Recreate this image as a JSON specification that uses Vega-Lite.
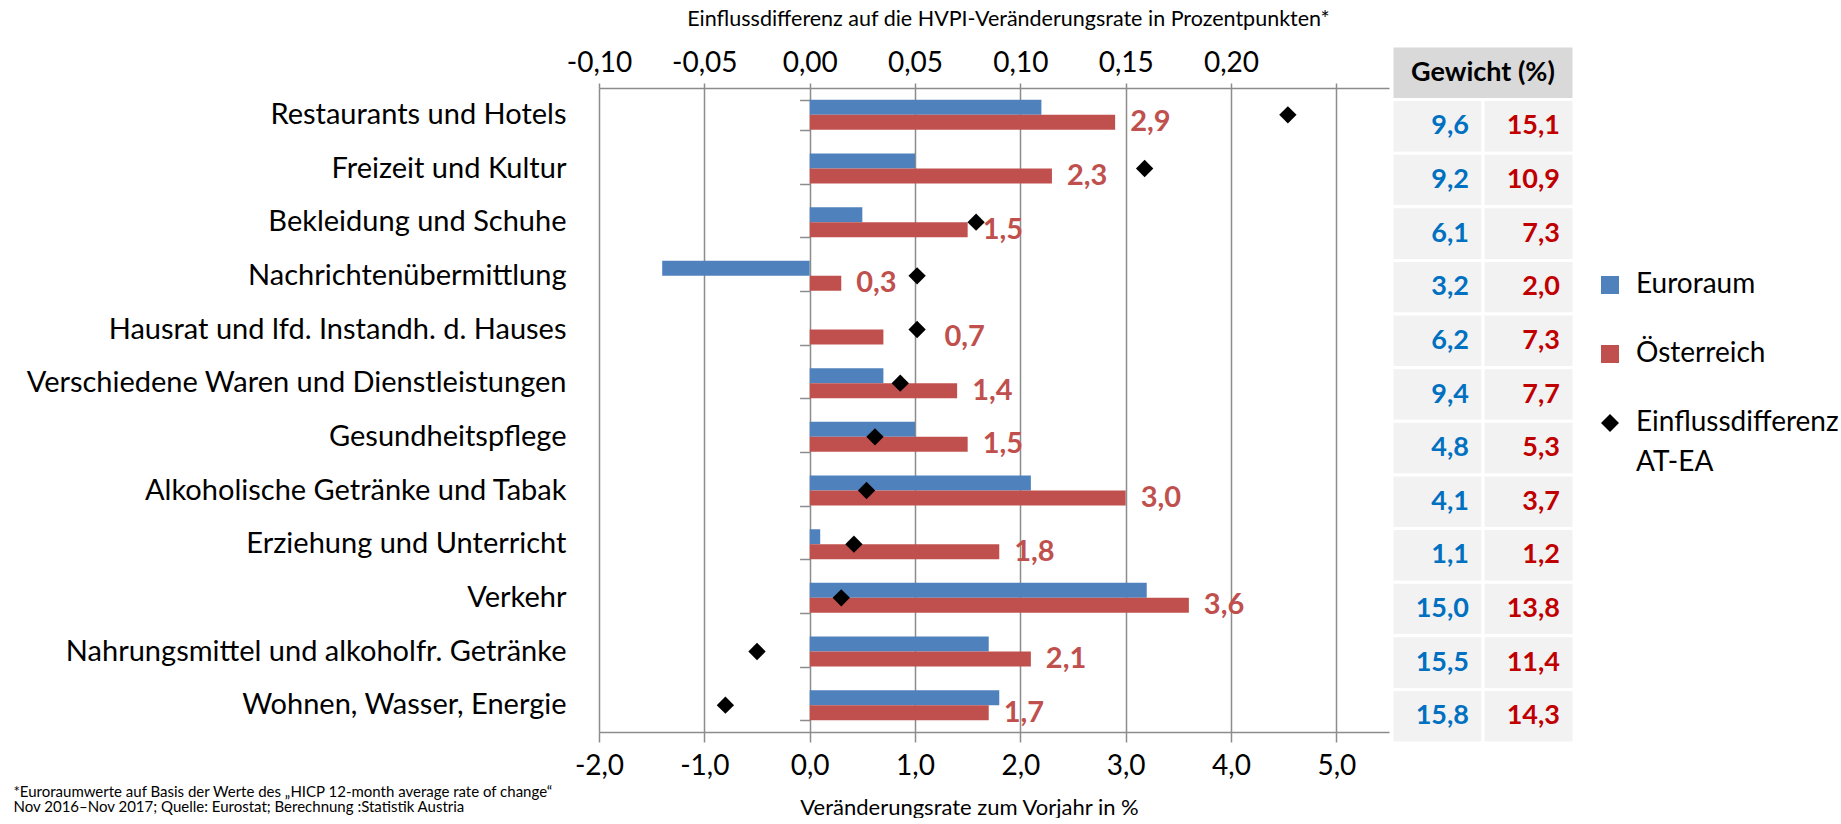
{
  "$schema": "https://vega.github.io/schema/vega-lite/v6.json",
  "background": "white",
  "padding": {"left": 13, "top": 8, "right": 0, "bottom": 0},
  "bounds": "flush",
  "spacing": 3,
  "resolve": {"scale": {"color": "independent", "shape": "independent"}, "legend": {"color": "independent", "shape": "independent"}},
  "config": {
    "font": "Lato",
    "view": {"stroke": null},
    "locale": {"number": {"decimal": ",", "thousands": ".", "grouping": [3], "currency": ["", " €"], "minus": "-"}}
  },
  "datasets": {
    "balken": [
      {"kat": "Restaurants und Hotels", "serie": "Euroraum", "wert": 2.2},
      {"kat": "Restaurants und Hotels", "serie": "Österreich", "wert": 2.9},
      {"kat": "Freizeit und Kultur", "serie": "Euroraum", "wert": 1.0},
      {"kat": "Freizeit und Kultur", "serie": "Österreich", "wert": 2.3},
      {"kat": "Bekleidung und Schuhe", "serie": "Euroraum", "wert": 0.5},
      {"kat": "Bekleidung und Schuhe", "serie": "Österreich", "wert": 1.5},
      {"kat": "Nachrichtenübermittlung", "serie": "Euroraum", "wert": -1.4},
      {"kat": "Nachrichtenübermittlung", "serie": "Österreich", "wert": 0.3},
      {"kat": "Hausrat und lfd. Instandh. d. Hauses", "serie": "Euroraum", "wert": 0.0},
      {"kat": "Hausrat und lfd. Instandh. d. Hauses", "serie": "Österreich", "wert": 0.7},
      {"kat": "Verschiedene Waren und Dienstleistungen", "serie": "Euroraum", "wert": 0.7},
      {"kat": "Verschiedene Waren und Dienstleistungen", "serie": "Österreich", "wert": 1.4},
      {"kat": "Gesundheitspflege", "serie": "Euroraum", "wert": 1.0},
      {"kat": "Gesundheitspflege", "serie": "Österreich", "wert": 1.5},
      {"kat": "Alkoholische Getränke und Tabak", "serie": "Euroraum", "wert": 2.1},
      {"kat": "Alkoholische Getränke und Tabak", "serie": "Österreich", "wert": 3.0},
      {"kat": "Erziehung und Unterricht", "serie": "Euroraum", "wert": 0.1},
      {"kat": "Erziehung und Unterricht", "serie": "Österreich", "wert": 1.8},
      {"kat": "Verkehr", "serie": "Euroraum", "wert": 3.2},
      {"kat": "Verkehr", "serie": "Österreich", "wert": 3.6},
      {"kat": "Nahrungsmittel und alkoholfr. Getränke", "serie": "Euroraum", "wert": 1.7},
      {"kat": "Nahrungsmittel und alkoholfr. Getränke", "serie": "Österreich", "wert": 2.1},
      {"kat": "Wohnen, Wasser, Energie", "serie": "Euroraum", "wert": 1.8},
      {"kat": "Wohnen, Wasser, Energie", "serie": "Österreich", "wert": 1.7}
    ],
    "diff": [
      {"kat": "Restaurants und Hotels", "serie": "Einflussdifferenz AT-EA", "diff": 0.227},
      {"kat": "Freizeit und Kultur", "serie": "Einflussdifferenz AT-EA", "diff": 0.159},
      {"kat": "Bekleidung und Schuhe", "serie": "Einflussdifferenz AT-EA", "diff": 0.079},
      {"kat": "Nachrichtenübermittlung", "serie": "Einflussdifferenz AT-EA", "diff": 0.051},
      {"kat": "Hausrat und lfd. Instandh. d. Hauses", "serie": "Einflussdifferenz AT-EA", "diff": 0.051},
      {"kat": "Verschiedene Waren und Dienstleistungen", "serie": "Einflussdifferenz AT-EA", "diff": 0.043},
      {"kat": "Gesundheitspflege", "serie": "Einflussdifferenz AT-EA", "diff": 0.031},
      {"kat": "Alkoholische Getränke und Tabak", "serie": "Einflussdifferenz AT-EA", "diff": 0.027},
      {"kat": "Erziehung und Unterricht", "serie": "Einflussdifferenz AT-EA", "diff": 0.021},
      {"kat": "Verkehr", "serie": "Einflussdifferenz AT-EA", "diff": 0.015},
      {"kat": "Nahrungsmittel und alkoholfr. Getränke", "serie": "Einflussdifferenz AT-EA", "diff": -0.025},
      {"kat": "Wohnen, Wasser, Energie", "serie": "Einflussdifferenz AT-EA", "diff": -0.040}
    ],
    "gewicht": [
      {"kat": "Restaurants und Hotels", "spalte": "EA", "w": 9.6},
      {"kat": "Restaurants und Hotels", "spalte": "AT", "w": 15.1},
      {"kat": "Freizeit und Kultur", "spalte": "EA", "w": 9.2},
      {"kat": "Freizeit und Kultur", "spalte": "AT", "w": 10.9},
      {"kat": "Bekleidung und Schuhe", "spalte": "EA", "w": 6.1},
      {"kat": "Bekleidung und Schuhe", "spalte": "AT", "w": 7.3},
      {"kat": "Nachrichtenübermittlung", "spalte": "EA", "w": 3.2},
      {"kat": "Nachrichtenübermittlung", "spalte": "AT", "w": 2.0},
      {"kat": "Hausrat und lfd. Instandh. d. Hauses", "spalte": "EA", "w": 6.2},
      {"kat": "Hausrat und lfd. Instandh. d. Hauses", "spalte": "AT", "w": 7.3},
      {"kat": "Verschiedene Waren und Dienstleistungen", "spalte": "EA", "w": 9.4},
      {"kat": "Verschiedene Waren und Dienstleistungen", "spalte": "AT", "w": 7.7},
      {"kat": "Gesundheitspflege", "spalte": "EA", "w": 4.8},
      {"kat": "Gesundheitspflege", "spalte": "AT", "w": 5.3},
      {"kat": "Alkoholische Getränke und Tabak", "spalte": "EA", "w": 4.1},
      {"kat": "Alkoholische Getränke und Tabak", "spalte": "AT", "w": 3.7},
      {"kat": "Erziehung und Unterricht", "spalte": "EA", "w": 1.1},
      {"kat": "Erziehung und Unterricht", "spalte": "AT", "w": 1.2},
      {"kat": "Verkehr", "spalte": "EA", "w": 15.0},
      {"kat": "Verkehr", "spalte": "AT", "w": 13.8},
      {"kat": "Nahrungsmittel und alkoholfr. Getränke", "spalte": "EA", "w": 15.5},
      {"kat": "Nahrungsmittel und alkoholfr. Getränke", "spalte": "AT", "w": 11.4},
      {"kat": "Wohnen, Wasser, Energie", "spalte": "EA", "w": 15.8},
      {"kat": "Wohnen, Wasser, Energie", "spalte": "AT", "w": 14.3}
    ],
    "kopf": [
      {"kat": "Gewicht (%)", "titel": "Gewicht (%)"}
    ]
  },
  "hconcat": [
    {
      "width": 790,
      "height": 644,
      "layer": [
        {
          "layer": [
            {
              "data": {"name": "balken"},
              "mark": {"type": "bar"},
              "encoding": {
                "y": {
                  "field": "kat", "type": "nominal",
                  "scale": {
                    "domain": ["Restaurants und Hotels", "Freizeit und Kultur", "Bekleidung und Schuhe", "Nachrichtenübermittlung", "Hausrat und lfd. Instandh. d. Hauses", "Verschiedene Waren und Dienstleistungen", "Gesundheitspflege", "Alkoholische Getränke und Tabak", "Erziehung und Unterricht", "Verkehr", "Nahrungsmittel und alkoholfr. Getränke", "Wohnen, Wasser, Energie"],
                    "paddingInner": 0.44, "paddingOuter": 0.22
                  },
                  "axis": {
                    "orient": "left",
                    "ticks": false, "domain": false, "grid": false,
                    "labelFontSize": 29, "labelColor": "#000000", "labelPadding": 33, "labelLimit": 700,
                    "title": ["*Euroraumwerte auf Basis der Werte des „HICP 12-month average rate of change“", "Nov 2016–Nov 2017; Quelle: Eurostat;  Berechnung :Statistik Austria"],
                    "titleAngle": 0, "titleAlign": "left", "titleBaseline": "top",
                    "titleX": -586, "titleY": 696,
                    "titleFontSize": 15, "titleFontWeight": "normal", "titleColor": "#000000", "titleLineHeight": 15
                  }
                },
                "yOffset": {"field": "serie", "type": "nominal", "scale": {"domain": ["Euroraum", "Österreich"], "paddingInner": 0, "paddingOuter": 0}},
                "x": {
                  "field": "wert", "type": "quantitative",
                  "scale": {"domain": [-2, 5.5], "nice": false, "zero": false},
                  "axis": {
                    "orient": "bottom",
                    "values": [-2, -1, 0, 1, 2, 3, 4, 5],
                    "format": ".1f", "labelFlush": false,
                    "grid": true, "gridColor": "#8c8c8c", "gridWidth": 1.5,
                    "domainColor": "#8c8c8c", "domainWidth": 1.5,
                    "tickColor": "#8c8c8c", "tickWidth": 1.5, "tickSize": 10,
                    "labelFontSize": 28, "labelColor": "#000000", "labelPadding": 10,
                    "title": "Veränderungsrate zum Vorjahr in %",
                    "titleFontSize": 22, "titleFontWeight": "normal", "titleColor": "#000000", "titlePadding": 17, "titleX": 370
                  }
                },
                "color": {
                  "field": "serie", "type": "nominal",
                  "scale": {"domain": ["Euroraum", "Österreich", "Einflussdifferenz AT-EA"], "range": ["#4f81bd", "#c0504d", "#000000"]},
                  "legend": {
                    "orient": "none", "legendX": 997, "legendY": 183, "title": null, "padding": 0,
                    "labelFontSize": 28, "labelColor": "#000000", "labelOffset": 12, "labelLimit": 400,
                    "symbolSize": 324, "symbolStrokeWidth": 0, "symbolOpacity": 1, "rowPadding": 41,
                    "labelExpr": "datum.label == 'Einflussdifferenz AT-EA' ? ['Einflussdifferenz', 'AT-EA'] : datum.label",
                    "encode": {"labels": {"update": {"lineHeight": {"value": 40}}}}
                  }
                }
              }
            },
            {
              "data": {"name": "balken"},
              "transform": [{"filter": "datum.serie == 'Österreich' && datum.kat != 'Hausrat und lfd. Instandh. d. Hauses'"}],
              "mark": {"type": "text", "align": "left", "baseline": "middle", "dx": 15, "fontSize": 29, "fontWeight": "bold", "color": "#c0504d"},
              "encoding": {
                "y": {"field": "kat", "type": "nominal"},
                "yOffset": {"field": "serie", "type": "nominal"},
                "x": {"field": "wert", "type": "quantitative"},
                "text": {"field": "wert", "type": "quantitative", "format": ".1f"}
              }
            },
            {
              "data": {"name": "balken"},
              "transform": [{"filter": "datum.serie == 'Österreich' && datum.kat == 'Hausrat und lfd. Instandh. d. Hauses'"}],
              "mark": {"type": "text", "align": "left", "baseline": "middle", "dx": 61, "fontSize": 29, "fontWeight": "bold", "color": "#c0504d"},
              "encoding": {
                "y": {"field": "kat", "type": "nominal"},
                "yOffset": {"field": "serie", "type": "nominal"},
                "x": {"field": "wert", "type": "quantitative"},
                "text": {"field": "wert", "type": "quantitative", "format": ".1f"}
              }
            }
          ]
        },
        {
          "data": {"name": "diff"},
          "mark": {"type": "point", "filled": true, "opacity": 1, "size": 300},
          "encoding": {
            "y": {
              "field": "kat", "type": "nominal",
              "axis": {
                "orient": "left", "offset": -210.6,
                "labels": false, "ticks": true, "tickBand": "extent", "tickSize": 10,
                "tickColor": "#8c8c8c", "tickWidth": 1.5, "domain": false, "grid": false, "title": null
              }
            },
            "x": {
              "field": "diff", "type": "quantitative",
              "scale": {"domain": [-0.1, 0.275], "nice": false, "zero": false},
              "axis": {
                "orient": "top",
                "values": [-0.1, -0.05, 0, 0.05, 0.1, 0.15, 0.2, 0.25],
                "format": ".2f", "labelFlush": false,
                "labelExpr": "datum.value > 0.24 ? '' : datum.label",
                "grid": false,
                "domainColor": "#8c8c8c", "domainWidth": 1.5,
                "tickColor": "#8c8c8c", "tickWidth": 1.5, "tickSize": 5,
                "labelFontSize": 28, "labelColor": "#000000", "labelPadding": 6,
                "title": "Einflussdifferenz auf die HVPI-Veränderungsrate in Prozentpunkten*",
                "titleFontSize": 21.5, "titleFontWeight": "normal", "titleColor": "#000000", "titlePadding": 19, "titleX": 409
              }
            },
            "color": {
              "field": "serie", "type": "nominal",
              "legend": {
                "orient": "none", "legendX": 997, "legendY": 183, "title": null, "padding": 0,
                "labelFontSize": 28, "labelColor": "#000000", "labelOffset": 12, "labelLimit": 400,
                "symbolSize": 324, "symbolStrokeWidth": 0, "symbolOpacity": 1, "rowPadding": 41,
                "labelExpr": "datum.label == 'Einflussdifferenz AT-EA' ? ['Einflussdifferenz', 'AT-EA'] : datum.label",
                "encode": {"labels": {"update": {"lineHeight": {"value": 40}}}}
              }
            },
            "shape": {
              "field": "serie", "type": "nominal",
              "scale": {"domain": ["Euroraum", "Österreich", "Einflussdifferenz AT-EA"], "range": ["square", "square", "diamond"]},
              "legend": {
                "orient": "none", "legendX": 997, "legendY": 183, "title": null, "padding": 0,
                "labelFontSize": 28, "labelColor": "#000000", "labelOffset": 12, "labelLimit": 400,
                "symbolSize": 324, "symbolStrokeWidth": 0, "symbolOpacity": 1, "rowPadding": 41,
                "labelExpr": "datum.label == 'Einflussdifferenz AT-EA' ? ['Einflussdifferenz', 'AT-EA'] : datum.label",
                "encode": {"labels": {"update": {"lineHeight": {"value": 40}}}}
              }
            }
          }
        }
      ],
      "resolve": {"scale": {"x": "independent"}, "axis": {"x": "independent", "y": "independent"}}
    },
    {
      "width": 182,
      "height": 644,
      "encoding": {
        "y": {
          "field": "kat", "type": "nominal",
          "scale": {
            "domain": ["Gewicht (%)", "Restaurants und Hotels", "Freizeit und Kultur", "Bekleidung und Schuhe", "Nachrichtenübermittlung", "Hausrat und lfd. Instandh. d. Hauses", "Verschiedene Waren und Dienstleistungen", "Gesundheitspflege", "Alkoholische Getränke und Tabak", "Erziehung und Unterricht", "Verkehr", "Nahrungsmittel und alkoholfr. Getränke", "Wohnen, Wasser, Energie"],
            "range": [-42, 655], "paddingInner": 0, "paddingOuter": 0
          },
          "axis": null
        }
      },
      "layer": [
        {
          "data": {"name": "kopf"},
          "mark": {"type": "rect", "fill": "#d9d9d9", "stroke": "#ffffff", "strokeWidth": 3}
        },
        {
          "data": {"name": "kopf"},
          "mark": {"type": "text", "fontSize": 27, "fontWeight": "bold", "color": "#000000", "baseline": "middle", "align": "center"},
          "encoding": {"text": {"field": "titel", "type": "nominal"}}
        },
        {
          "data": {"name": "gewicht"},
          "mark": {"type": "rect", "fill": "#f2f2f2", "stroke": "#ffffff", "strokeWidth": 3},
          "encoding": {
            "x": {"field": "spalte", "type": "nominal", "scale": {"domain": ["EA", "AT"], "paddingInner": 0, "paddingOuter": 0}, "axis": null}
          }
        },
        {
          "data": {"name": "gewicht"},
          "transform": [{"filter": "datum.spalte == 'EA'"}],
          "mark": {"type": "text", "fontSize": 27, "fontWeight": "bold", "align": "right", "baseline": "middle", "dx": -14, "color": "#0070c0"},
          "encoding": {
            "x": {"field": "spalte", "type": "nominal", "bandPosition": 1},
            "text": {"field": "w", "type": "quantitative", "format": ".1f"}
          }
        },
        {
          "data": {"name": "gewicht"},
          "transform": [{"filter": "datum.spalte == 'AT'"}],
          "mark": {"type": "text", "fontSize": 27, "fontWeight": "bold", "align": "right", "baseline": "middle", "dx": -14, "color": "#c00000"},
          "encoding": {
            "x": {"field": "spalte", "type": "nominal", "bandPosition": 1},
            "text": {"field": "w", "type": "quantitative", "format": ".1f"}
          }
        }
      ]
    }
  ]
}
